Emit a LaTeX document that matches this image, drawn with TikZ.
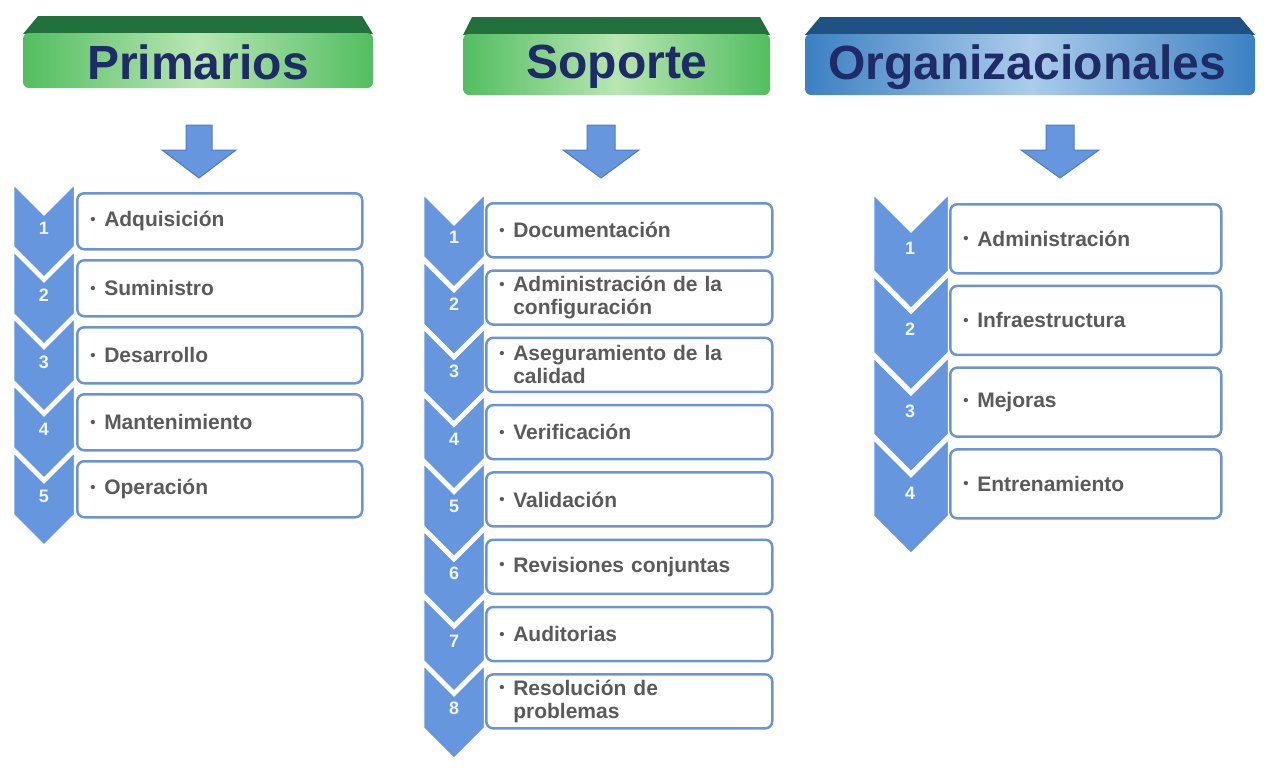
\documentclass[tikz,border=0pt]{standalone}
\usepackage{fontspec}
\setmainfont{Liberation Sans}
\definecolor{chevblue}{HTML}{6696DD}
\definecolor{boxline}{HTML}{6C94D2}
\definecolor{itemgray}{HTML}{5A5A5A}
\definecolor{titlenavy}{HTML}{1E2B66}
\definecolor{gdark}{HTML}{22703C}
\definecolor{gside}{HTML}{52BE60}
\definecolor{glight}{HTML}{B8E6B2}
\definecolor{bdark}{HTML}{1F5283}
\definecolor{bside}{HTML}{3C80C3}
\definecolor{blight}{HTML}{ABCCEA}
\definecolor{arrowline}{HTML}{4C7CC6}
\newcommand{\bul}{\makebox[14pt][l]{\raisebox{2.5pt}{\fontsize{15}{15}\selectfont•}}}
\newcommand{\ind}{\hspace*{14pt}}
\begin{document}
\begin{tikzpicture}[x=1pt,y=-1pt,
  title/.style={text=titlenavy,font=\fontsize{48}{48}\selectfont\bfseries},
  barrow/.style={fill=chevblue,draw=arrowline,line width=1pt,line join=miter},
  chev/.style={fill=chevblue,draw=white,line width=2.5pt,line join=miter},
  num/.style={text=white!90!chevblue,font=\fontsize{18}{18}\selectfont\bfseries},
  box/.style={draw=boxline,line width=2.5pt,fill=white,rounded corners=7pt,
    anchor=north west,align=left,inner xsep=13pt,inner ysep=0pt,
    text=itemgray,font=\fontsize{21}{23}\selectfont\bfseries},
  pbox/.style={box,text width=259pt,minimum height=56pt},
  sbox/.style={box,text width=260pt,minimum height=54pt},
  obox/.style={box,text width=245pt,minimum height=69pt}]
\useasboundingbox (0,0) rectangle (1273,772);

\fill[gdark] (38,16) -- (362,16) -- (373,34) -- (23,34) -- cycle;
\shade[left color=gside,right color=gside,middle color=glight,rounded corners=6pt] (23,33) rectangle (373,88);
\node[title] (tp) at (198,62) {Primarios};

\fill[gdark] (472,17) -- (760,17) -- (770,35) -- (463,35) -- cycle;
\shade[left color=gside,right color=gside,middle color=glight,rounded corners=6pt] (463,34) rectangle (770,95);
\node[title] (ts) at (617,67) {Soporte};

\fill[bdark] (820,17) -- (1240,17) -- (1255,35) -- (805,35) -- cycle;
\shade[left color=bside,right color=bside,middle color=blight,rounded corners=6pt] (805,34) rectangle (1255,95);
\node[title] (to) at (1027,67) {Organizacionales};

\filldraw[barrow] (199,178) -- ++(-37,-28) -- ++(24,0) -- ++(0,-25) -- ++(26,0) -- ++(0,25) -- ++(24,0) -- cycle;
\filldraw[barrow] (601,178) -- ++(-38,-28) -- ++(24,0) -- ++(0,-25) -- ++(28,0) -- ++(0,25) -- ++(24,0) -- cycle;
\filldraw[barrow] (1060,178) -- ++(-39,-28) -- ++(25,0) -- ++(0,-25) -- ++(28,0) -- ++(0,25) -- ++(25,0) -- cycle;

\foreach \i [evaluate=\i as \t using 183+67*(\i-1)] in {1,...,5}{
  \filldraw[chev] (13,\t) -- ++(31,31) -- ++(31,-31) -- ++(0,64) -- ++(-31,31) -- ++(-31,-31) -- cycle;
  \node[num] (np\i) at (44,\t+45) {\i};}
\foreach \i [evaluate=\i as \t using 193+67.3*(\i-1)] in {1,...,8}{
  \filldraw[chev] (423,\t) -- ++(31,31) -- ++(31,-31) -- ++(0,64) -- ++(-31,31) -- ++(-31,-31) -- cycle;
  \node[num] (ns\i) at (454,\t+44) {\i};}
\foreach \i [evaluate=\i as \t using 193+81.7*(\i-1)] in {1,...,4}{
  \filldraw[chev] (873,\t) -- ++(38,38) -- ++(38,-38) -- ++(0,78) -- ++(-38,38) -- ++(-38,-38) -- cycle;
  \node[num] (no\i) at (910,\t+55) {\i};}

\node[pbox] (p1) at (76,192) {\bul Adquisición};
\node[pbox] (p2) at (76,259) {\bul Suministro};
\node[pbox] (p3) at (76,326) {\bul Desarrollo};
\node[pbox] (p4) at (76,393) {\bul Mantenimiento};
\node[pbox] (p5) at (76,460) {\bul Operación};

\node[sbox] (s1) at (485,202) {\bul Documentación};
\node[sbox] (s2) at (485,269.3) {\bul Administración de la\\\ind configuración};
\node[sbox] (s3) at (485,336.6) {\bul Aseguramiento de la\\\ind calidad};
\node[sbox] (s4) at (485,403.9) {\bul Verificación};
\node[sbox] (s5) at (485,471.2) {\bul Validación};
\node[sbox] (s6) at (485,538.5) {\bul Revisiones conjuntas};
\node[sbox] (s7) at (485,605.8) {\bul Auditorias};
\node[sbox] (s8) at (485,673.1) {\bul Resolución de\\\ind problemas};

\node[obox] (o1) at (949,203) {\bul Administración};
\node[obox] (o2) at (949,284.7) {\bul Infraestructura};
\node[obox] (o3) at (949,366.4) {\bul Mejoras};
\node[obox] (o4) at (949,448.1) {\bul Entrenamiento};
\end{tikzpicture}
\end{document}
